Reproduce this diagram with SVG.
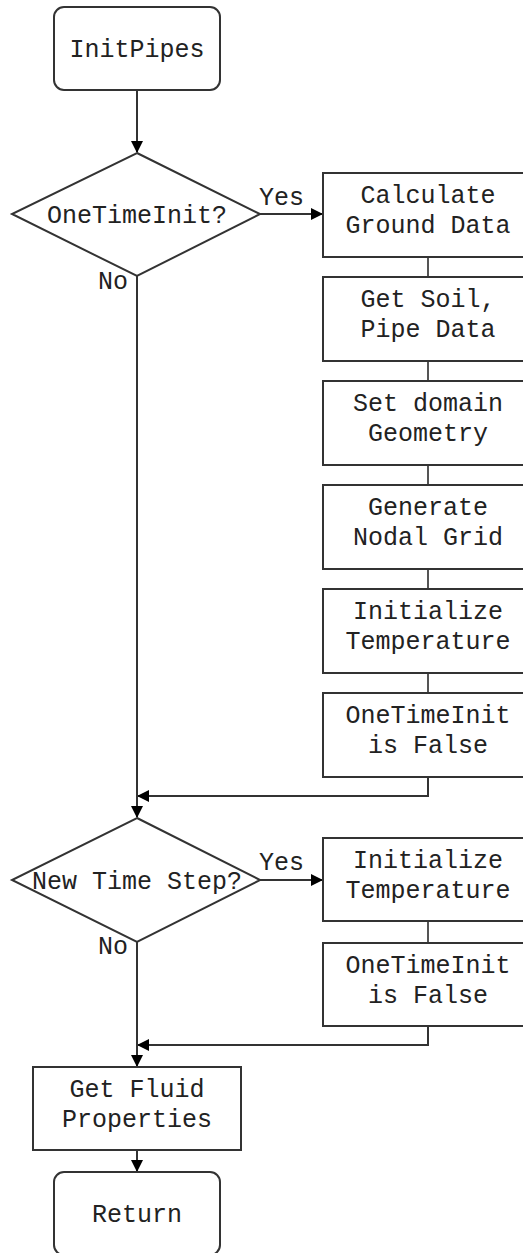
<svg xmlns="http://www.w3.org/2000/svg" width="523" height="1253" viewBox="0 0 523 1253">
<style>
.s{fill:#fff;stroke:#333;stroke-width:2}
.t{font-family:"Liberation Mono","Courier New",monospace;font-size:25px;fill:#222;text-anchor:middle}
.l{font-family:"Liberation Mono","Courier New",monospace;font-size:25px;fill:#222}
.c{fill:none;stroke:#333;stroke-width:2}
.g{fill:none;stroke:#555;stroke-width:2}
</style>
<defs>
<marker id="a" markerWidth="12" markerHeight="12" refX="11" refY="6" orient="auto" markerUnits="userSpaceOnUse">
<path d="M0,0 L12,6 L0,12 Z" fill="#000"/>
</marker>
</defs>
<rect width="523" height="1253" fill="#fff"/>
<g id="connectors">
<line class="c" x1="137" y1="90" x2="137" y2="152" marker-end="url(#a)"/>
<line class="c" x1="260" y1="214" x2="322" y2="214" marker-end="url(#a)"/>
<line class="g" x1="428" y1="257" x2="428" y2="277"/>
<line class="g" x1="428" y1="361" x2="428" y2="381"/>
<line class="g" x1="428" y1="465" x2="428" y2="485"/>
<line class="g" x1="428" y1="569" x2="428" y2="589"/>
<line class="g" x1="428" y1="673" x2="428" y2="693"/>
<polyline class="c" points="428,777 428,796 138,796" marker-end="url(#a)"/>
<line class="c" x1="137" y1="276" x2="137" y2="817" marker-end="url(#a)"/>
<line class="c" x1="260" y1="880" x2="322" y2="880" marker-end="url(#a)"/>
<line class="g" x1="428" y1="921" x2="428" y2="943"/>
<polyline class="c" points="428,1026 428,1045 138,1045" marker-end="url(#a)"/>
<line class="c" x1="137" y1="942" x2="137" y2="1066" marker-end="url(#a)"/>
<line class="c" x1="137" y1="1150" x2="137" y2="1171" marker-end="url(#a)"/>
<text class="l" x="259" y="205">Yes</text>
<text class="l" x="98" y="289">No</text>
<text class="l" x="259" y="870">Yes</text>
<text class="l" x="98" y="954">No</text>
</g>
<g id="initpipes">
<rect class="s" x="54" y="7" width="166" height="83" rx="10"/>
<text class="t" x="137" y="57">InitPipes</text>
</g>
<g id="onetimeinit">
<polygon class="s" points="137,153 260,214 137,276 12,214"/>
<text class="t" x="137" y="223">OneTimeInit?</text>
</g>
<g id="calc-ground">
<rect class="s" x="323" y="173" width="212" height="84"/>
<text class="t" x="428" y="203">Calculate</text>
<text class="t" x="428" y="233">Ground Data</text>
</g>
<g id="soil-pipe">
<rect class="s" x="323" y="277" width="212" height="84"/>
<text class="t" x="428" y="307">Get Soil,</text>
<text class="t" x="428" y="337">Pipe Data</text>
</g>
<g id="domain">
<rect class="s" x="323" y="381" width="212" height="84"/>
<text class="t" x="428" y="411">Set domain</text>
<text class="t" x="428" y="441">Geometry</text>
</g>
<g id="nodal-grid">
<rect class="s" x="323" y="485" width="212" height="84"/>
<text class="t" x="428" y="515">Generate</text>
<text class="t" x="428" y="545">Nodal Grid</text>
</g>
<g id="init-temp-1">
<rect class="s" x="323" y="589" width="212" height="84"/>
<text class="t" x="428" y="619">Initialize</text>
<text class="t" x="428" y="649">Temperature</text>
</g>
<g id="oti-false-1">
<rect class="s" x="323" y="693" width="212" height="84"/>
<text class="t" x="428" y="723">OneTimeInit</text>
<text class="t" x="428" y="753">is False</text>
</g>
<g id="new-time-step">
<polygon class="s" points="137,818 260,880 137,942 12,880"/>
<text class="t" x="137" y="889">New Time Step?</text>
</g>
<g id="init-temp-2">
<rect class="s" x="323" y="838" width="212" height="83"/>
<text class="t" x="428" y="868">Initialize</text>
<text class="t" x="428" y="898">Temperature</text>
</g>
<g id="oti-false-2">
<rect class="s" x="323" y="943" width="212" height="83"/>
<text class="t" x="428" y="973">OneTimeInit</text>
<text class="t" x="428" y="1003">is False</text>
</g>
<g id="fluid">
<rect class="s" x="33" y="1067" width="208" height="83"/>
<text class="t" x="137" y="1097">Get Fluid</text>
<text class="t" x="137" y="1127">Properties</text>
</g>
<g id="return">
<rect class="s" x="54" y="1172" width="166" height="83" rx="10"/>
<text class="t" x="137" y="1222">Return</text>
</g>
</svg>
